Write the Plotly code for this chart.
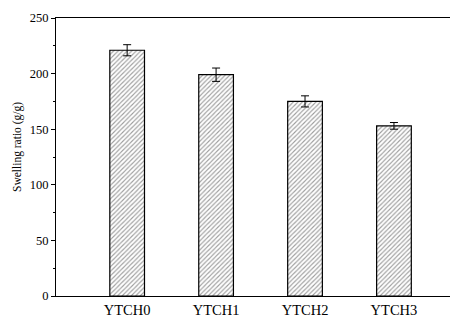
import plotly.graph_objects as go

categories = ["YTCH0", "YTCH1", "YTCH2", "YTCH3"]
swelling = [221, 199, 175, 153]
errors = [5, 6, 5, 3]
y_ticks = [0, 50, 100, 150, 200, 250]

fig = go.Figure()
fig.add_trace(go.Bar(
    x=categories, y=swelling, width=0.39,
    marker=dict(color="white", line=dict(color="black", width=1.2),
                pattern=dict(shape="/", fgcolor="#3a3a3a", bgcolor="white", size=3.2, solidity=0.35)),
    error_y=dict(type="data", array=errors, color="black", thickness=1, width=4),
))

# page body has an 8px margin; figure is sized to fit the window
fig.update_layout(
    width=450, height=312,
    margin=dict(l=48, r=0, t=10, b=24, autoexpand=False),
    paper_bgcolor="white", plot_bgcolor="white",
    font=dict(family="Liberation Serif", color="black"),
    showlegend=False,
    bargap=0.6,
)
fig.update_xaxes(
    range=[-0.8, 3.72], showline=True, linecolor="black", linewidth=1.2, mirror=True,
    ticks="", showgrid=False, tickfont=dict(size=14.5), automargin=False,
)
fig.update_yaxes(
    range=[0, 250], tickvals=y_ticks, showline=True, linecolor="black", linewidth=1.2,
    ticks="outside", ticklen=4, tickcolor="black", showgrid=False, zeroline=False,
    minor=dict(ticks="outside", ticklen=2, dtick=25, tickcolor="black"),
    tickfont=dict(size=12.5), automargin=False,
)
fig.add_annotation(
    text="Swelling ratio (g/g)", xref="paper", yref="paper", x=-0.0945, y=0.536,
    xanchor="center", yanchor="middle", textangle=-90, showarrow=False,
    font=dict(size=11.5, family="Liberation Serif", color="black"),
)

fig.write_html("out.html")
